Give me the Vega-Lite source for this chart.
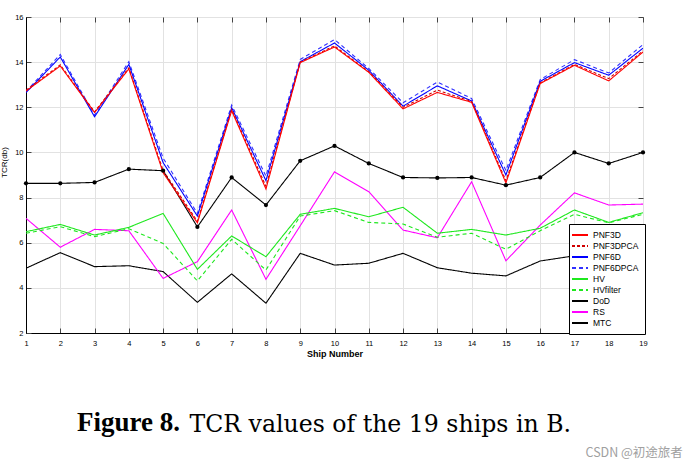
{
  "$schema": "https://vega.github.io/schema/vega-lite/v6.json",
  "width": 617,
  "height": 316,
  "autosize": "none",
  "padding": {"left": 26, "top": 17, "right": 52, "bottom": 138},
  "background": "white",
  "config": {
    "view": {"stroke": "black", "strokeWidth": 1},
    "font": "Liberation Sans"
  },
  "title": {
    "text": "Figure 8.",
    "subtitle": "\u200b\u00a0\u00a0\u00a0\u00a0\u00a0\u00a0\u00a0\u00a0\u00a0\u00a0\u00a0\u00a0\u00a0\u00a0\u00a0TCR values of the 19 ships in B.",
    "orient": "bottom",
    "anchor": "start",
    "frame": "group",
    "dx": 51,
    "offset": -48.5,
    "font": "Liberation Serif",
    "fontSize": 27,
    "fontWeight": "bold",
    "color": "black",
    "subtitleFont": "DejaVu Serif",
    "subtitleFontSize": 23.6,
    "subtitleColor": "black",
    "subtitlePadding": -24.3
  },
  "data": {
    "values": [
      {"ship": 1, "PNF3D": 12.72, "PNF3DPCA": 12.76, "PNF6D": 12.65, "PNF6DPCA": 12.7, "HV": 6.49, "HVfilter": 6.42, "DoD": 4.87, "RS": 7.08, "MTC": 8.63},
      {"ship": 2, "PNF3D": 13.83, "PNF3DPCA": 13.88, "PNF6D": 14.23, "PNF6DPCA": 14.34, "HV": 6.81, "HVfilter": 6.71, "DoD": 5.56, "RS": 5.8, "MTC": 8.63},
      {"ship": 3, "PNF3D": 11.77, "PNF3DPCA": 11.8, "PNF6D": 11.58, "PNF6DPCA": 11.65, "HV": 6.34, "HVfilter": 6.27, "DoD": 4.94, "RS": 6.59, "MTC": 8.67},
      {"ship": 4, "PNF3D": 13.7, "PNF3DPCA": 13.75, "PNF6D": 13.9, "PNF6DPCA": 14.02, "HV": 6.68, "HVfilter": 6.62, "DoD": 4.98, "RS": 6.53, "MTC": 9.26},
      {"ship": 5, "PNF3D": 9.1, "PNF3DPCA": 9.2, "PNF6D": 9.55, "PNF6DPCA": 9.75, "HV": 7.3, "HVfilter": 5.97, "DoD": 4.72, "RS": 4.42, "MTC": 9.19},
      {"ship": 6, "PNF3D": 6.88, "PNF3DPCA": 6.95, "PNF6D": 7.18, "PNF6DPCA": 7.3, "HV": 4.82, "HVfilter": 4.31, "DoD": 3.36, "RS": 5.16, "MTC": 6.7},
      {"ship": 7, "PNF3D": 11.85, "PNF3DPCA": 11.9, "PNF6D": 11.98, "PNF6DPCA": 12.1, "HV": 6.3, "HVfilter": 6.15, "DoD": 4.62, "RS": 7.45, "MTC": 8.89},
      {"ship": 8, "PNF3D": 8.38, "PNF3DPCA": 8.5, "PNF6D": 8.75, "PNF6DPCA": 8.95, "HV": 5.38, "HVfilter": 4.79, "DoD": 3.32, "RS": 4.38, "MTC": 7.67},
      {"ship": 9, "PNF3D": 13.98, "PNF3DPCA": 14.0, "PNF6D": 14.02, "PNF6DPCA": 14.12, "HV": 7.26, "HVfilter": 7.18, "DoD": 5.53, "RS": 6.75, "MTC": 9.63},
      {"ship": 10, "PNF3D": 14.67, "PNF3DPCA": 14.72, "PNF6D": 14.85, "PNF6DPCA": 15.0, "HV": 7.52, "HVfilter": 7.42, "DoD": 5.01, "RS": 9.14, "MTC": 10.29},
      {"ship": 11, "PNF3D": 13.55, "PNF3DPCA": 13.58, "PNF6D": 13.64, "PNF6DPCA": 13.72, "HV": 7.15, "HVfilter": 6.9, "DoD": 5.09, "RS": 8.26, "MTC": 9.51},
      {"ship": 12, "PNF3D": 11.93, "PNF3DPCA": 12.0, "PNF6D": 12.05, "PNF6DPCA": 12.2, "HV": 7.57, "HVfilter": 6.83, "DoD": 5.53, "RS": 6.56, "MTC": 8.89},
      {"ship": 13, "PNF3D": 12.66, "PNF3DPCA": 12.76, "PNF6D": 12.95, "PNF6DPCA": 13.12, "HV": 6.42, "HVfilter": 6.24, "DoD": 4.89, "RS": 6.22, "MTC": 8.87},
      {"ship": 14, "PNF3D": 12.22, "PNF3DPCA": 12.26, "PNF6D": 12.28, "PNF6DPCA": 12.39, "HV": 6.59, "HVfilter": 6.42, "DoD": 4.65, "RS": 8.7, "MTC": 8.89},
      {"ship": 15, "PNF3D": 8.65, "PNF3DPCA": 8.75, "PNF6D": 9.0, "PNF6DPCA": 9.2, "HV": 6.34, "HVfilter": 5.71, "DoD": 4.53, "RS": 5.2, "MTC": 8.55},
      {"ship": 16, "PNF3D": 13.05, "PNF3DPCA": 13.08, "PNF6D": 13.15, "PNF6DPCA": 13.23, "HV": 6.64, "HVfilter": 6.53, "DoD": 5.19, "RS": 6.78, "MTC": 8.89},
      {"ship": 17, "PNF3D": 13.86, "PNF3DPCA": 13.9, "PNF6D": 13.98, "PNF6DPCA": 14.11, "HV": 7.45, "HVfilter": 7.26, "DoD": 5.42, "RS": 8.21, "MTC": 10.0},
      {"ship": 18, "PNF3D": 13.17, "PNF3DPCA": 13.27, "PNF6D": 13.42, "PNF6DPCA": 13.52, "HV": 6.9, "HVfilter": 6.88, "DoD": 5.25, "RS": 7.67, "MTC": 9.51},
      {"ship": 19, "PNF3D": 14.45, "PNF3DPCA": 14.5, "PNF6D": 14.62, "PNF6DPCA": 14.78, "HV": 7.33, "HVfilter": 7.26, "DoD": 5.42, "RS": 7.71, "MTC": 10.0}
    ]
  },
  "transform": [
    {"fold": ["DoD", "RS", "HVfilter", "HV", "MTC", "PNF6DPCA", "PNF6D", "PNF3DPCA", "PNF3D"], "as": ["method", "tcr"]}
  ],
  "layer": [
    {
      "mark": {"type": "line", "strokeWidth": 1.1, "clip": true},
      "encoding": {
        "x": {
          "field": "ship", "type": "quantitative",
          "scale": {"domain": [1, 19], "nice": false},
          "axis": {
            "orient": "bottom",
            "values": [1,2,3,4,5,6,7,8,9,10,11,12,13,14,15,16,17,18,19],
            "tickSize": -5, "tickColor": "#444",
            "labelPadding": 11, "labelFontSize": 7.5, "labelColor": "black", "labelFlush": false,
            "domainColor": "black",
            "grid": true, "gridColor": "#e2e2e2",
            "title": "Ship Number", "titleFontSize": 9, "titleFontWeight": "bold", "titleColor": "black", "titlePadding": 3
          }
        },
        "y": {
          "field": "tcr", "type": "quantitative",
          "scale": {"domain": [2, 16], "nice": false, "zero": false},
          "axis": {
            "orient": "left",
            "values": [2,4,6,8,10,12,14,16],
            "tickSize": -5, "tickColor": "#444",
            "labelPadding": 8, "labelFontSize": 7.5, "labelColor": "black",
            "domainColor": "black",
            "grid": true, "gridColor": "#e2e2e2",
            "title": "TCR(db)", "titleFontSize": 8, "titleFontWeight": "normal", "titleColor": "black", "titlePadding": 6,
            "titleY": 145
          }
        },
        "color": {
          "field": "method", "type": "nominal",
          "scale": {
            "domain": ["PNF3D", "PNF3DPCA", "PNF6D", "PNF6DPCA", "HV", "HVfilter", "DoD", "RS", "MTC"],
            "range": ["#ff0000", "#d00000", "#0000ff", "#3030ff", "#1ee81e", "#1ee81e", "#000000", "#ff00ff", "#000000"]
          },
          "legend": {
            "title": null, "orient": "none", "legendX": 543, "legendY": 207,
            "symbolType": "M-2,0H2", "symbolSize": 64, "symbolStrokeWidth": 2,
            "labelFontSize": 8.5, "labelFont": "Liberation Sans", "labelColor": "black", "labelOffset": 8,
            "rowPadding": 1, "padding": 6, "strokeColor": "black", "fillColor": "white"
          }
        },
        "strokeDash": {
          "field": "method", "type": "nominal",
          "scale": {
            "domain": ["PNF3D", "PNF3DPCA", "PNF6D", "PNF6DPCA", "HV", "HVfilter", "DoD", "RS", "MTC"],
            "range": [[1, 0], [3, 2], [1, 0], [4, 3], [1, 0], [4, 3], [1, 0], [1, 0], [1, 0]]
          },
          "legend": {
            "title": null, "orient": "none", "legendX": 543, "legendY": 207,
            "symbolType": "M-2,0H2", "symbolSize": 64, "symbolStrokeWidth": 2,
            "labelFontSize": 8.5, "labelFont": "Liberation Sans", "labelColor": "black", "labelOffset": 8,
            "rowPadding": 1, "padding": 6, "strokeColor": "black", "fillColor": "white"
          }
        }
      }
    },
    {
      "transform": [{"filter": "datum.method === 'MTC'"}],
      "mark": {"type": "point", "filled": true, "size": 18, "color": "black", "opacity": 1},
      "encoding": {
        "x": {
          "field": "ship", "type": "quantitative",
          "axis": {
            "orient": "top",
            "values": [1,2,3,4,5,6,7,8,9,10,11,12,13,14,15,16,17,18,19],
            "labels": false, "grid": false, "domain": false,
            "tickSize": -5, "tickColor": "#444", "title": null
          }
        },
        "y": {
          "field": "tcr", "type": "quantitative",
          "axis": {
            "orient": "right",
            "values": [2,4,6,8,10,12,14,16],
            "labels": false, "grid": false, "domain": false,
            "tickSize": -5, "tickColor": "#444",
            "title": "CSDN @初途旅者", "titleAngle": 0, "titleX": -58, "titleY": 435,
            "titleAlign": "left", "titleBaseline": "middle",
            "titleFont": "Noto Sans CJK SC", "titleFontSize": 12.5, "titleFontWeight": "normal", "titleColor": "#a0a0a0"
          }
        }
      }
    }
  ],
  "resolve": {"axis": {"x": "independent", "y": "independent"}}
}
